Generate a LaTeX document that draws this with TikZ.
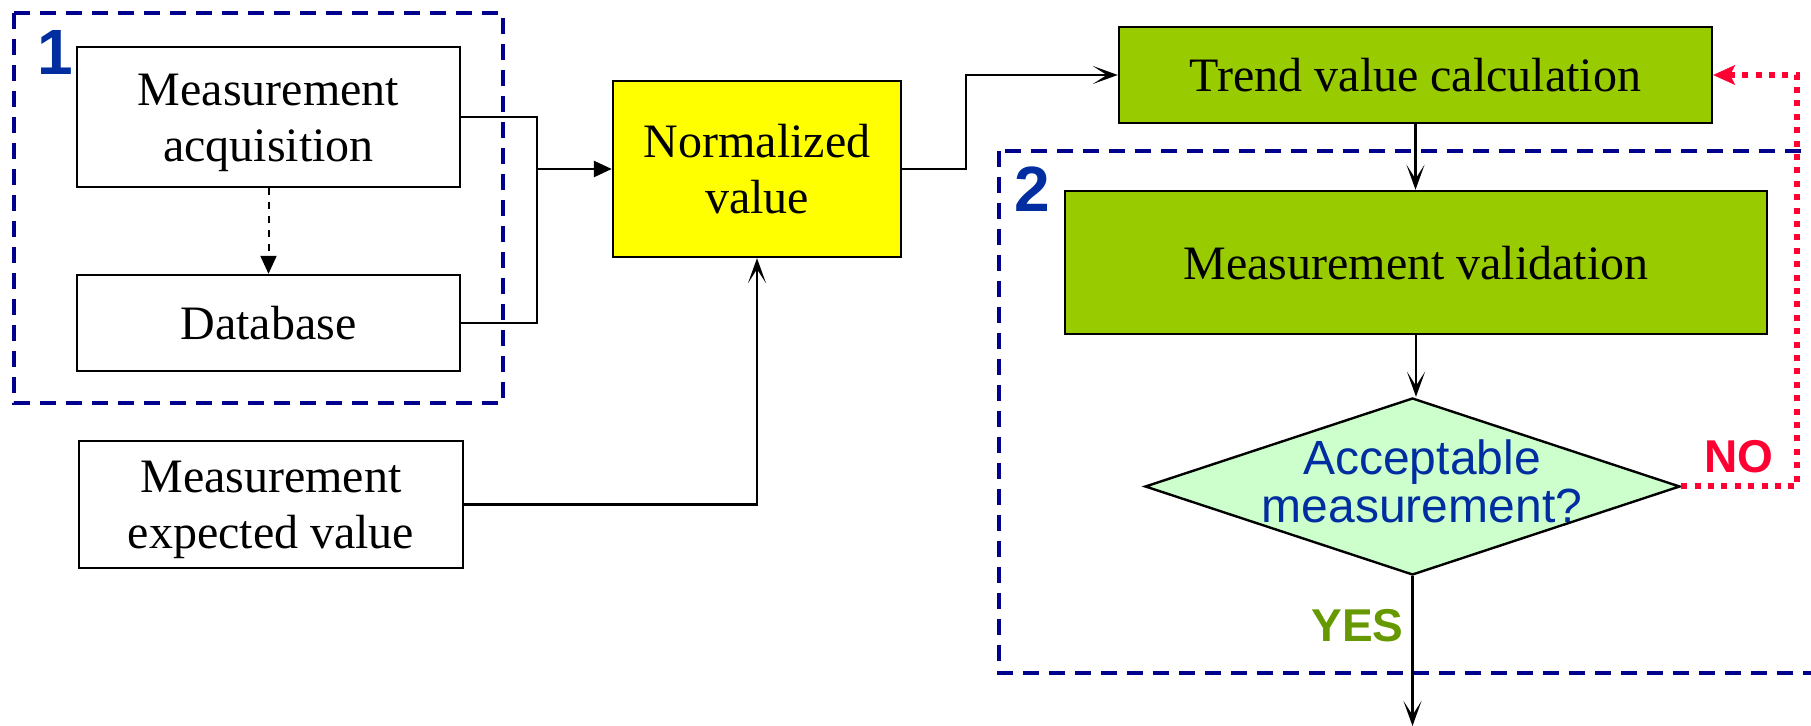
\documentclass[tikz,border=0pt]{standalone}
\usepackage{fontspec}
\setmainfont{Liberation Serif}
\newfontfamily\labelsans{Liberation Sans}
\usetikzlibrary{arrows.meta,shapes.geometric}

\definecolor{groupblue}{RGB}{0,0,140}
\definecolor{tagblue}{RGB}{0,45,160}
\definecolor{stepgreen}{RGB}{153,204,0}
\definecolor{checkgreen}{RGB}{204,255,204}
\definecolor{noteyellow}{RGB}{255,255,0}
\definecolor{noRed}{RGB}{255,0,51}
\definecolor{yesGreen}{RGB}{102,153,0}

% two centred lines whose baseline is the first line
\newcommand{\twolines}[2]{\begin{tabular}[t]{@{}c@{}}#1\\#2\end{tabular}}

\tikzset{
  box/.style={draw, line width=1.2pt, fill=white, inner sep=0pt,
              font=\fontsize{24}{28}\selectfont},
  oneline/.style={text height=17pt, text depth=0pt},
  twoline/.style={text height=10pt, text depth=21.5pt},
  decision/.style={diamond, draw, line width=1.2pt, fill=checkgreen, inner sep=0pt,
                   minimum width=267.5pt, minimum height=88.5pt},
  question/.style={inner sep=0pt, text=tagblue, text height=10pt, text depth=21.5pt,
                   font=\labelsans\fontsize{24}{23}\selectfont},
  link/.style={line width=1.25pt},
  barbtip/.style={-{Stealth[length=12.5pt,width=9pt,inset=7pt]}},
  solidtip/.style={-{Triangle[length=9pt,width=8pt]}},
  grp/.style={draw=groupblue, line width=1.7pt, dash pattern=on 8pt off 5pt},
  grptag/.style={text=tagblue, inner sep=0pt, anchor=base,
                 font=\labelsans\bfseries\fontsize{32}{32}\selectfont},
  answer/.style={inner sep=0pt, anchor=base, font=\labelsans\bfseries\fontsize{23}{23}\selectfont},
  loopback/.style={draw=noRed, line width=3pt, dash pattern=on 3pt off 3.7pt,
                   -{Stealth[length=11pt,width=10pt,inset=2.5pt,line width=0.3pt]}}
}

\begin{document}
\begin{tikzpicture}[x=0.5pt, y=-0.5pt]
  \useasboundingbox (0,0) rectangle (1811,726);
  \clip (0,0) rectangle (1811,726);

  % validation group (runs past the right border)
  \draw[grp] (999,151) rectangle (1840,673);

  % process boxes
  \node[box, twoline, minimum width=191.5pt, minimum height=70pt]   (acq)   at (268.5,117)  {\twolines{Measurement}{acquisition}};
  \node[box, oneline, minimum width=191.5pt, minimum height=48pt]   (db)    at (268.5,323)  {Database};
  \node[box, twoline, minimum width=192pt,   minimum height=63.5pt] (exp)   at (271,504.5)  {\twolines{Measurement}{expected value}};
  \node[box, twoline, fill=noteyellow, minimum width=144pt, minimum height=88pt] (norm) at (757,169) {\twolines{Normalized}{value}};
  \node[box, oneline, fill=stepgreen, minimum width=296.5pt, minimum height=48pt]  (trend) at (1415.5,75)  {Trend value calculation};
  \node[box, oneline, fill=stepgreen, minimum width=351pt,   minimum height=71.5pt] (val) at (1416,262.5) {Measurement validation};
  \node[decision] (dia) at (1412.5,486.5) {};
  \node[question] (dq) at (1422,486.5) {\twolines{Acceptable}{measurement?}};

  % routing points
  \coordinate (j)      at (537,169);
  \coordinate (k1)     at (966,169);
  \coordinate (rc)     at (1797,75);
  \coordinate (yesend) at (1413,726);

  % connectors
  \draw[link] (acq.east) -| (j);
  \draw[link] (db.east) -| (j);
  \draw[link, solidtip] (j) -- (norm.west);
  \draw[link, solidtip, dash pattern=on 3.5pt off 3.5pt, line width=1pt] (acq.south) -- (db.north);
  \draw[link, barbtip] (exp.east) -| (norm.south);
  \draw[link, barbtip] (norm.east) -- (k1) |- (trend.west);
  \draw[link, barbtip] (trend.south) -- (trend.south |- val.north);
  \draw[link, barbtip] (val.south) -- (val.south |- dia.north);
  \draw[link, barbtip] (dia.south) -- (dia.south |- yesend);

  % acquisition group
  \draw[grp] (14,13) rectangle (503,403);

  % group tags and answers
  \node[grptag] (tag1) at (55,75)   {1};
  \node[grptag] (tag2) at (1032,212) {2};
  \node[answer, text=yesGreen] (yes) at (1357.5,642) {YES};
  \node[answer, text=noRed]    (no)  at (1739,473)   {NO};

  % rejected measurement goes back to the trend calculation
  \draw[loopback] (dia.east) -| (rc) -- (trend.east);
\end{tikzpicture}
\end{document}
